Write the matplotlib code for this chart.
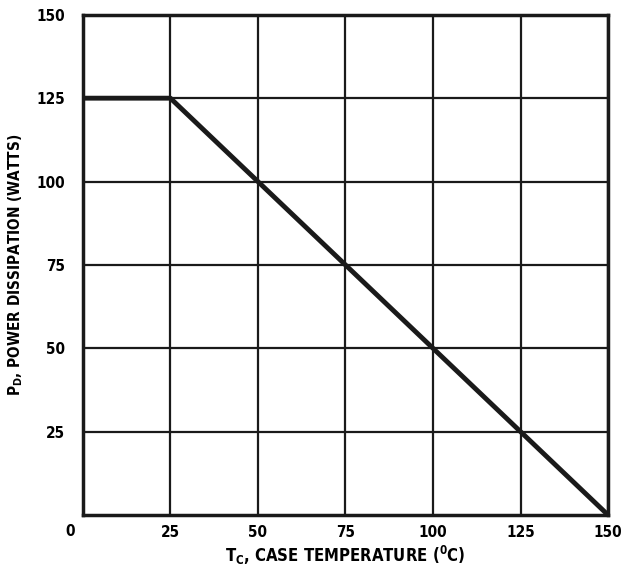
import matplotlib.pyplot as plt
import numpy as np

# derating curve
temp_c = [0, 25, 150]
power_w = [125, 125, 0]

x_ticks = [25, 50, 75, 100, 125, 150]
y_ticks = [25, 50, 75, 100, 125, 150]

plt.rcParams['font.family'] = ['DejaVu Sans']
plt.rcParams['font.stretch'] = 'condensed'

fig = plt.figure(figsize=(6.23, 5.7), dpi=100)
ax = fig.add_axes([0.133, 0.0965, 0.843, 0.8775])

ax.plot(temp_c, power_w, color='#1a1a1a', lw=3.5, solid_capstyle='butt', zorder=3)

ax.set_xlim(0, 150)
ax.set_ylim(0, 150)
ax.set_xticks(x_ticks)
ax.set_yticks(y_ticks)
ax.set_xticklabels([str(v) for v in x_ticks], fontsize=11, fontweight='bold')
ax.set_yticklabels([str(v) for v in y_ticks], fontsize=11, fontweight='bold')
ax.tick_params(axis='x', length=0, pad=7)
ax.tick_params(axis='y', length=0, pad=13)
ax.grid(True, color='#1a1a1a', lw=1.6)
for s in ax.spines.values():
    s.set_linewidth(2.5)
    s.set_color('#1a1a1a')

# shared origin label
ax.text(-0.015, -0.018, '0', transform=ax.transAxes, ha='right', va='top',
        fontsize=11, fontweight='bold')

ax.set_xlabel('T$_\\mathregular{C}$, CASE TEMPERATURE ($^\\mathregular{0}$C)',
              fontsize=12, fontweight='bold', labelpad=3)
ax.set_ylabel('P$_\\mathregular{D}$, POWER DISSIPATION (WATTS)',
              fontsize=11, fontweight='bold', labelpad=8)

fig.savefig('out.png', dpi=100)
